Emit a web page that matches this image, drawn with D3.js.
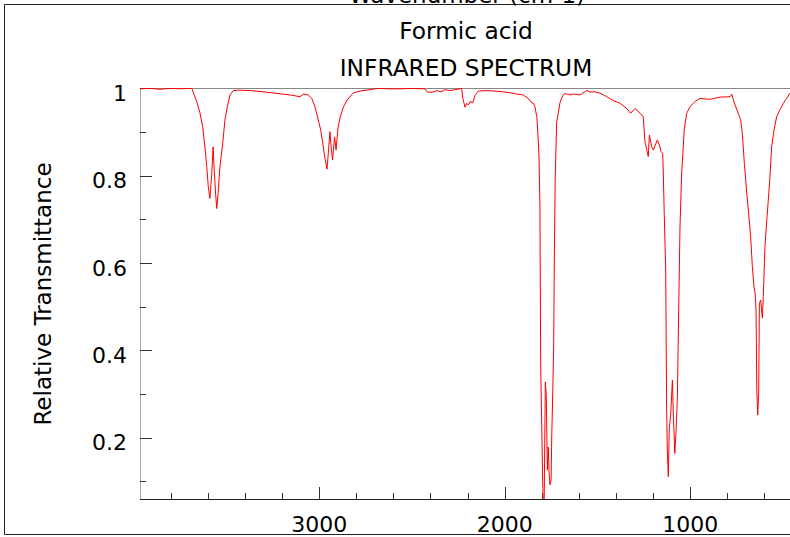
<!DOCTYPE html>
<html><head><meta charset="utf-8">
<script src="https://cdn.jsdelivr.net/npm/d3@7"></script>
<style>body{margin:0;background:#fff}svg{display:block}text{font-family:"DejaVu Sans",sans-serif;fill:#000}</style>
</head><body>
<script>
const titleMain = "Formic acid";
const titleSub = "INFRARED SPECTRUM";
const xLabel = "Wavenumber (cm-1)";
const yLabel = "Relative Transmittance";
const xTickValues = [3800,3600,3400,3200,3000,2800,2600,2400,2200,2000,1800,1600,1400,1200,1000,800,600];
const xTickLabels = [3000,2000,1000];
const yTickValues = [0.1,0.2,0.3,0.4,0.5,0.6,0.7,0.8,0.9,1.0];
const yTickLabels = [0.2,0.4,0.6,0.8,1];
const wavenumber = [3966,3912,3858,3804,3750,3707,3687,3680,3660,3643,3628,3616,3606,3598,3589,3579,3572,3565,3558,3552,3545,3535,3520,3508,3495,3481,3463,3436,3373,3319,3238,3157,3103,3086,3059,3040,3023,3005,2992,2978,2969,2958,2951,2942,2936,2928,2917,2909,2899,2888,2870,2850,2818,2780,2742,2688,2618,2564,2483,2430,2419,2392,2365,2343,2322,2295,2268,2232,2226,2214,2205,2196,2187,2172,2160,2142,2095,2025,1971,1935,1900,1873,1854,1846,1837,1827,1822,1815,1810,1806,1800,1795,1792,1787,1781,1776,1770,1765,1761,1756,1750,1746,1741,1736,1732,1728,1720,1711,1702,1693,1684,1678,1666,1648,1630,1594,1558,1540,1513,1486,1450,1414,1378,1342,1321,1298,1270,1253,1244,1234,1226,1220,1207,1199,1177,1163,1157,1148,1145,1140,1132,1127,1123,1118,1113,1105,1096,1091,1083,1076,1069,1062,1055,1046,1032,1019,1001,974,947,893,839,785,776,769,758,741,728,719,708,695,685,674,665,656,650,645,641,636,631,627,620,611,606,597,587,579,570,561,548,534,516,498,480,466,451];
const transmittance = [0.999,1.0,0.998,1.0,0.999,1.0,1.0,0.992,0.970,0.944,0.912,0.866,0.821,0.775,0.748,0.806,0.866,0.806,0.756,0.725,0.760,0.821,0.874,0.928,0.958,0.985,0.995,0.996,0.995,0.993,0.989,0.985,0.981,0.987,0.985,0.977,0.958,0.928,0.905,0.866,0.840,0.815,0.851,0.901,0.866,0.836,0.889,0.859,0.909,0.932,0.957,0.973,0.989,0.994,0.996,1.0,0.999,0.999,1.0,0.999,0.992,0.991,0.995,0.992,0.997,0.995,0.997,1.0,0.978,0.957,0.966,0.962,0.970,0.967,0.984,0.994,0.995,0.993,0.990,0.987,0.985,0.977,0.967,0.966,0.958,0.935,0.905,0.844,0.726,0.371,0.218,0.096,0.046,0.058,0.328,0.298,0.126,0.179,0.122,0.092,0.103,0.211,0.302,0.408,0.630,0.790,0.921,0.944,0.967,0.978,0.985,0.988,0.987,0.985,0.987,0.985,0.995,0.992,0.992,0.989,0.981,0.972,0.966,0.954,0.943,0.954,0.943,0.935,0.878,0.859,0.844,0.893,0.866,0.859,0.882,0.866,0.855,0.851,0.806,0.714,0.584,0.264,0.168,0.111,0.218,0.256,0.332,0.256,0.164,0.218,0.294,0.493,0.683,0.806,0.905,0.943,0.958,0.970,0.977,0.975,0.980,0.981,0.987,0.976,0.962,0.943,0.928,0.897,0.828,0.760,0.714,0.660,0.592,0.546,0.531,0.493,0.309,0.252,0.302,0.508,0.515,0.474,0.523,0.638,0.699,0.744,0.798,0.866,0.905,0.935,0.951,0.966,0.977,0.987,0.994];

const W = 790, H = 537;
const svg = d3.select("body").append("svg").attr("width", W).attr("height", H);
const x = d3.scaleLinear().domain([3966, 462]).range([140, 790]);
const y = d3.scaleLinear().domain([0.0598, 1]).range([499, 88.4]);

// frame
svg.append("line").attr("x1",4.5).attr("x2",W).attr("y1",4.5).attr("y2",4.5).attr("stroke","#222");
svg.append("line").attr("x1",4.5).attr("x2",4.5).attr("y1",4.5).attr("y2",534.5).attr("stroke","#222");
svg.append("line").attr("x1",4.5).attr("x2",W).attr("y1",534.5).attr("y2",534.5).attr("stroke","#222");

// cut-off label at top (as in the reference)
svg.append("text").attr("x",467).attr("y",2.5).attr("text-anchor","middle").attr("font-size",23).text(xLabel);

// titles
svg.append("text").attr("x",466).attr("y",38.5).attr("text-anchor","middle").attr("font-size",23.3).text(titleMain);
svg.append("text").attr("x",466).attr("y",76).attr("text-anchor","middle").attr("font-size",23.3).text(titleSub);

// y label
svg.append("text").attr("transform","translate(51,294) rotate(-90)").attr("text-anchor","middle").attr("font-size",23).text(yLabel);

// plot borders
svg.append("line").attr("x1",140).attr("x2",W).attr("y1",88.5).attr("y2",88.5).attr("stroke","#888");
svg.append("line").attr("x1",140.5).attr("x2",140.5).attr("y1",88).attr("y2",499).attr("stroke","#aaa");

// y ticks
const gy = svg.append("g");
gy.selectAll("line").data(yTickValues).join("line")
  .attr("x1",140).attr("x2",d => (Math.round(d*10)%2===0) ? 152 : 146)
  .attr("y1",d => Math.round(y(d))+0.5).attr("y2",d => Math.round(y(d))+0.5)
  .attr("stroke","#333");
gy.selectAll("text").data(yTickLabels).join("text")
  .attr("x",127).attr("y",d => y(d)+12.5).attr("text-anchor","end").attr("font-size",22)
  .text(d => d3.format("")(d));

// x axis
svg.append("line").attr("x1",140).attr("x2",W).attr("y1",499.5).attr("y2",499.5).attr("stroke","#222");
const gx = svg.append("g");
gx.selectAll("line").data(xTickValues).join("line")
  .attr("x1",d => Math.round(x(d))+0.5).attr("x2",d => Math.round(x(d))+0.5)
  .attr("y1",499).attr("y2",d => d%1000===0 ? 487 : 493)
  .attr("stroke","#333");
gx.selectAll("text").data(xTickLabels).join("text")
  .attr("x",d => x(d)).attr("y",532).attr("text-anchor","middle").attr("font-size",22)
  .text(d => d);

// spectrum
svg.append("clipPath").attr("id","clip").append("rect").attr("x",140).attr("y",88).attr("width",W-140).attr("height",411);
const pts = wavenumber.map((w,i)=>[w, transmittance[i]]);
svg.append("path").attr("clip-path","url(#clip)").datum(pts)
  .attr("fill","none").attr("stroke","#ff0000").attr("stroke-width",1)
  .attr("d", d3.line().x(d=>x(d[0])).y(d=>y(d[1])));
</script>
</body></html>
